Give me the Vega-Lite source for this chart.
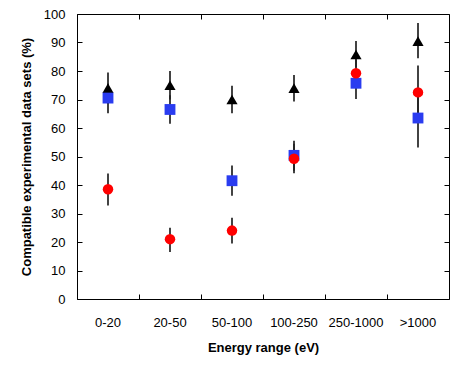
{
  "$schema": "https://vega.github.io/schema/vega-lite/v6.json",
  "width": 372,
  "height": 285,
  "autosize": "none",
  "padding": {"left": 77, "top": 14, "right": 15, "bottom": 72},
  "background": "white",
  "config": {
    "font": "Liberation Sans",
    "view": {"stroke": "black", "strokeWidth": 1},
    "axis": {
      "domain": false,
      "grid": false,
      "tickColor": "black",
      "tickWidth": 1,
      "labelColor": "black",
      "labelFont": "Liberation Sans",
      "labelFontSize": 13,
      "titleFont": "Liberation Sans",
      "titleFontSize": 13,
      "titleFontWeight": "bold",
      "titleColor": "black"
    }
  },
  "data": {
    "values": [
      {"cat": "0-20", "series": "A", "v": 74, "lo": 68.5, "hi": 79.5},
      {"cat": "0-20", "series": "B", "v": 70.5, "lo": 65.2, "hi": 75.5},
      {"cat": "0-20", "series": "C", "v": 38.5, "lo": 32.8, "hi": 44},
      {"cat": "20-50", "series": "A", "v": 75, "lo": 70, "hi": 80},
      {"cat": "20-50", "series": "B", "v": 66.5, "lo": 61.5, "hi": 71.5},
      {"cat": "20-50", "series": "C", "v": 21, "lo": 16.5, "hi": 25},
      {"cat": "50-100", "series": "A", "v": 70, "lo": 65.2, "hi": 74.8},
      {"cat": "50-100", "series": "B", "v": 41.5, "lo": 36.2, "hi": 46.8},
      {"cat": "50-100", "series": "C", "v": 24, "lo": 19.5, "hi": 28.5},
      {"cat": "100-250", "series": "A", "v": 74, "lo": 69.3, "hi": 78.6},
      {"cat": "100-250", "series": "B", "v": 50.4, "lo": 45, "hi": 55.5},
      {"cat": "100-250", "series": "C", "v": 49.2, "lo": 44.1, "hi": 54.5},
      {"cat": "250-1000", "series": "A", "v": 85.8, "lo": 81.2, "hi": 90.5},
      {"cat": "250-1000", "series": "B", "v": 75.7, "lo": 70.2, "hi": 81},
      {"cat": "250-1000", "series": "C", "v": 79.2, "lo": 74.5, "hi": 84},
      {"cat": ">1000", "series": "A", "v": 90.5, "lo": 84.5, "hi": 96.8},
      {"cat": ">1000", "series": "B", "v": 63.5, "lo": 53.2, "hi": 73.8},
      {"cat": ">1000", "series": "C", "v": 72.5, "lo": 63.2, "hi": 81.9}
    ]
  },
  "layer": [
    {
      "mark": {"type": "rule", "color": "#222222", "strokeWidth": 1.7},
      "encoding": {
        "x": {
          "field": "cat", "type": "nominal",
          "scale": {"domain": ["0-20", "20-50", "50-100", "100-250", "250-1000", ">1000"], "paddingInner": 0, "paddingOuter": 0},
          "axis": {"orient": "bottom", "ticks": false, "labelAngle": 0, "labelPadding": 17, "title": "Energy range (eV)", "titlePadding": 12}
        },
        "y": {
          "field": "lo", "type": "quantitative",
          "scale": {"domain": [0, 100], "nice": false},
          "axis": {"orient": "left", "values": [0, 10, 20, 30, 40, 50, 60, 70, 80, 90, 100], "tickSize": -5, "labelPadding": 17, "title": "Compatible experimental data sets (%)", "titlePadding": 10}
        },
        "y2": {"field": "hi"}
      }
    },
    {
      "mark": {"type": "point", "filled": true, "opacity": 1, "strokeWidth": 0},
      "encoding": {
        "x": {
          "field": "cat", "type": "nominal",
          "scale": {"domain": ["0-20", "20-50", "50-100", "100-250", "250-1000", ">1000"], "paddingInner": 0, "paddingOuter": 0},
          "axis": {"orient": "bottom", "labels": false, "title": null, "bandPosition": 0, "tickSize": -5}
        },
        "y": {
          "field": "v", "type": "quantitative",
          "scale": {"domain": [0, 100], "nice": false},
          "axis": {"orient": "right", "values": [0, 10, 20, 30, 40, 50, 60, 70, 80, 90, 100], "labels": false, "title": null, "tickSize": -5}
        },
        "shape": {
          "field": "series", "type": "nominal", "legend": null,
          "scale": {"domain": ["A", "B", "C"], "range": ["triangle-up", "square", "circle"]}
        },
        "color": {
          "field": "series", "type": "nominal", "legend": null,
          "scale": {"domain": ["A", "B", "C"], "range": ["#000000", "#2a3cf0", "#ff0000"]}
        },
        "size": {
          "field": "series", "type": "nominal", "legend": null,
          "scale": {"domain": ["A", "B", "C"], "range": [125, 110, 85]}
        }
      }
    },
    {
      "mark": {"type": "rule", "opacity": 0},
      "encoding": {
        "x": {
          "field": "cat", "type": "nominal",
          "scale": {"domain": ["0-20", "20-50", "50-100", "100-250", "250-1000", ">1000"], "paddingInner": 0, "paddingOuter": 0},
          "axis": {"orient": "top", "labels": false, "title": null, "bandPosition": 0, "tickSize": -5}
        },
        "y": {"field": "lo", "type": "quantitative", "scale": {"domain": [0, 100], "nice": false}, "axis": null},
        "y2": {"field": "hi"}
      }
    }
  ],
  "resolve": {"axis": {"x": "independent", "y": "independent"}}
}
